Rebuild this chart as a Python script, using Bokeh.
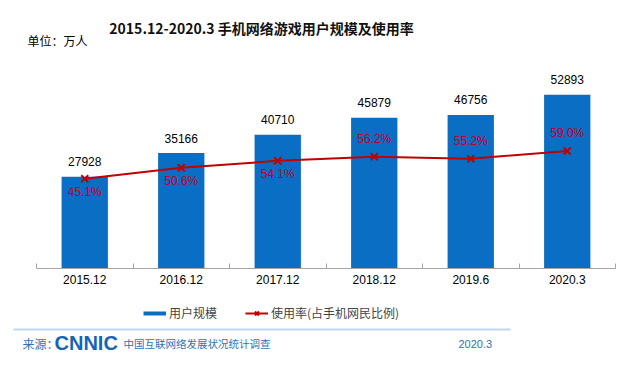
from bokeh.plotting import figure
from bokeh.layouts import column
from bokeh.models import (ColumnDataSource, Range1d, LinearAxis, FixedTicker, Label,
                          Legend, LegendItem, BoxAnnotation)
from bokeh.core.properties import value
from bokeh.embed import file_html
from bokeh.resources import INLINE

categories = ["2015.12", "2016.12", "2017.12", "2018.12", "2019.6", "2020.3"]
users = [27928, 35166, 40710, 45879, 46756, 52893]
rates = [45.1, 50.6, 54.1, 56.2, 55.2, 59.0]
rate_labels_below = [True, True, True, False, False, False]

BLUE = "#0A6EC4"
RED = "#C00000"
CJK = "Noto Sans CJK SC"
LAT = "Liberation Sans"

xs = [i + 0.5 for i in range(len(categories))]
src = ColumnDataSource(dict(x=xs, users=users, rates=rates, ulab=[str(u) for u in users]))
below = ColumnDataSource(dict(
    x=[x for x, b in zip(xs, rate_labels_below) if b],
    rates=[r for r, b in zip(rates, rate_labels_below) if b],
    rlab=[f"{r:.1f}%" for r, b in zip(rates, rate_labels_below) if b],
))
above = ColumnDataSource(dict(
    x=[x for x, b in zip(xs, rate_labels_below) if not b],
    rates=[r for r, b in zip(rates, rate_labels_below) if not b],
    rlab=[f"{r:.1f}%" for r, b in zip(rates, rate_labels_below) if not b],
))

# ---- geometry (pixels) ----
W = 638
MAIN_H = 298          # main figure height
AX_H = 30             # axis panel height below frame
FRAME_H = MAIN_H - AX_H   # 268
PLOT_L, PLOT_R = 36, 615  # category area in pixels
PLOT_H = 197          # pixel height of value range 0..60000
cat_w = (PLOT_R - PLOT_L) / len(categories)
x_start = -PLOT_L / cat_w
x_end = len(categories) + (W - PLOT_R) / cat_w

p = figure(width=W, height=MAIN_H, output_backend="svg", toolbar_location=None,
           x_range=Range1d(x_start, x_end),
           y_range=Range1d(0, 60000 * FRAME_H / PLOT_H),
           y_axis_location=None, x_axis_location=None,
           min_border_left=0, min_border_right=0, min_border_top=0, min_border_bottom=AX_H)
p.extra_y_ranges = {"rate": Range1d(0, 99 * FRAME_H / PLOT_H)}
p.outline_line_color = None
p.xgrid.visible = False
p.ygrid.visible = False
p.background_fill_color = "white"
p.border_fill_color = "white"

xaxis = LinearAxis(ticker=FixedTicker(ticks=xs, minor_ticks=list(range(len(categories) + 1))),
                   bounds=(0, len(categories)))
xaxis.major_label_overrides = {x: c for x, c in zip(xs, categories)}
xaxis.major_tick_line_color = None
xaxis.major_tick_in = 0
xaxis.major_tick_out = 0
xaxis.minor_tick_in = 5
xaxis.minor_tick_out = 0
xaxis.minor_tick_line_color = "#A6A6A6"
xaxis.axis_line_color = "#A6A6A6"
xaxis.major_label_standoff = 6
xaxis.major_label_text_font = LAT
xaxis.major_label_text_font_size = "12px"
xaxis.major_label_text_color = "#000000"
p.add_layout(xaxis, "below")

p.vbar(x="x", top="users", width=0.48, source=src, fill_color=BLUE, line_color=None)
p.text(x="x", y="users", text="ulab", source=src, text_align="center", text_baseline="middle",
       y_offset=-15, text_font=value(LAT), text_font_size="12px", text_color="#000000")

p.line(x="x", y="rates", source=src, y_range_name="rate", line_color=RED, line_width=2)
p.scatter(x="x", y="rates", source=src, y_range_name="rate", marker="x", size=10,
          line_color=RED, line_width=2)
p.text(x="x", y="rates", text="rlab", source=below, y_range_name="rate", text_align="center",
       text_baseline="middle", y_offset=13, text_font=value(LAT), text_font_size="12px",
       text_color="#C00028")
p.text(x="x", y="rates", text="rlab", source=above, y_range_name="rate", text_align="center",
       text_baseline="middle", y_offset=-18, text_font=value(LAT), text_font_size="12px",
       text_color="#C00028")


def lab(fig, fh, text, px, py, size, color="#000000", bold=False, font=CJK, align="left"):
    fig.add_layout(Label(x=px, y=fh - py, x_units="screen", y_units="screen", text=text,
                         text_font=font, text_font_size=size, text_color=color,
                         text_font_style="bold" if bold else "normal",
                         text_align=align, text_baseline="middle"))


lab(p, FRAME_H, "2015.12-2020.3 手机网络游戏用户规模及使用率", 261, 27, "14px", "#111111", True,
    align="center")
lab(p, FRAME_H, "单位：万人", 27, 40, "12px")

# ---- footer figure (legend + source line) ----
FOOT_H = 366 - MAIN_H
f = figure(width=W, height=FOOT_H, output_backend="svg", toolbar_location=None,
           x_range=Range1d(0, W), y_range=Range1d(0, FOOT_H),
           x_axis_location=None, y_axis_location=None,
           min_border_left=0, min_border_right=0, min_border_top=0, min_border_bottom=0)
f.outline_line_color = None
f.xgrid.visible = False
f.ygrid.visible = False
f.background_fill_color = "white"
f.border_fill_color = "white"

# legend proxies: placed outside the visible range so only their legend glyphs show
hidden = ColumnDataSource(dict(x=[-50, -40], y=[-50, -50]))
proxy_bar = f.line(x="x", y="y", source=hidden, line_color=BLUE, line_width=4)
proxy_line = f.line(x="x", y="y", source=hidden, line_color=RED, line_width=2)
proxy_mark = f.scatter(x="x", y="y", source=hidden, marker="x", size=10, line_color=RED,
                       line_width=2)
legend = Legend(items=[LegendItem(label="用户规模", renderers=[proxy_bar]),
                       LegendItem(label="使用率(占手机网民比例)", renderers=[proxy_line, proxy_mark])],
                orientation="horizontal", location=(143, FOOT_H - 15 - 8),
                label_text_font=CJK, label_text_font_size="12px",
                glyph_width=23, glyph_height=14, label_standoff=3, spacing=28,
                label_height=14, border_line_color=None, background_fill_alpha=0,
                padding=0, margin=0)
f.add_layout(legend, "center")

FOOT = "#2F72B8"
Y0 = MAIN_H
f.add_layout(BoxAnnotation(left=13, right=510, bottom=FOOT_H - (330 - Y0), top=FOOT_H - (328 - Y0),
                           left_units="screen", right_units="screen",
                           bottom_units="screen", top_units="screen",
                           fill_color="#BDD7EE", fill_alpha=1, line_color=None))
lab(f, FOOT_H, "来源：", 22, 343 - Y0, "12px", FOOT)
lab(f, FOOT_H, "CNNIC", 54, 342 - Y0, "20px", "#1565B5", True, LAT)
lab(f, FOOT_H, "中国互联网络发展状况统计调查", 123, 343 - Y0, "10.5px", FOOT)
lab(f, FOOT_H, "2020.3", 458, 343 - Y0, "11px", FOOT, font=LAT)

layout = column(p, f, spacing=0)
open("out.html", "w").write(file_html(layout, INLINE))
